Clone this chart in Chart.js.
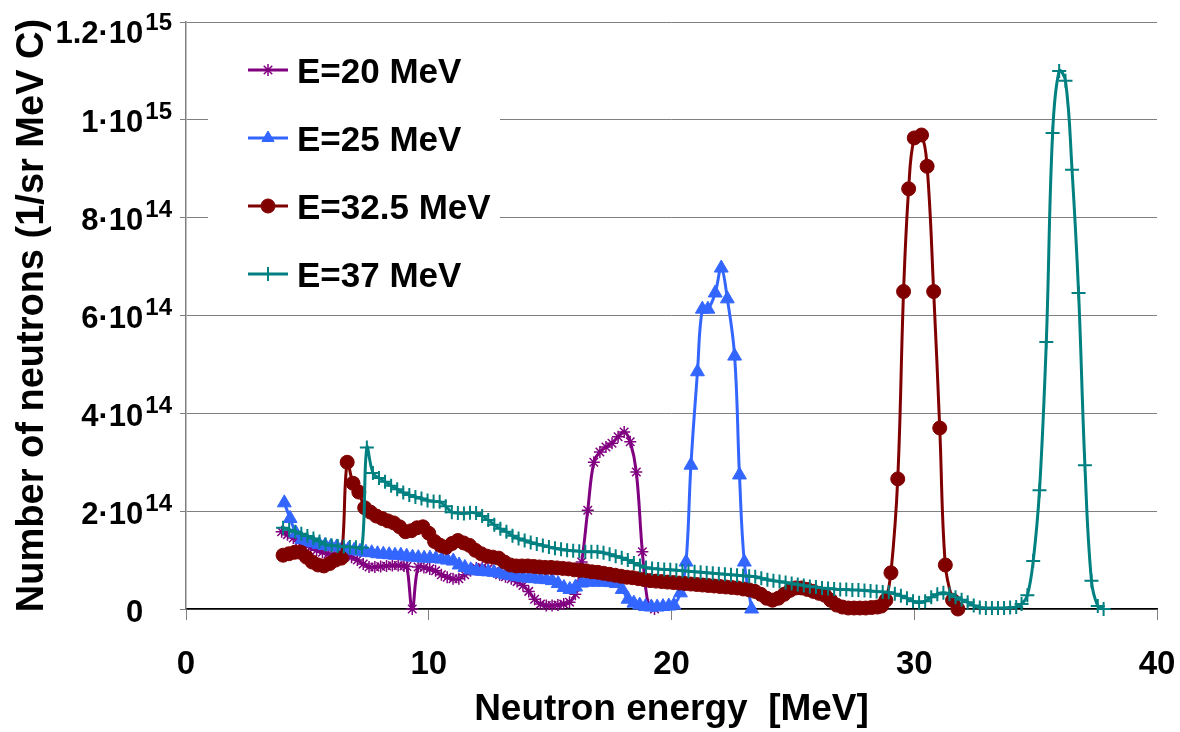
<!DOCTYPE html>
<html>
<head>
<meta charset="utf-8">
<script src="https://cdn.jsdelivr.net/npm/chart.js@4.4.1/dist/chart.umd.min.js"></script>
<style>
  body { margin: 0; background: #fff; }
  #wrap { width: 1180px; height: 732px; }
</style>
</head>
<body>
<div id="wrap"><canvas id="neutronChart" width="1180" height="732"></canvas></div>
<script>
// values in units of 1e14 neutrons / (sr MeV C)
const e20Energy = [3.94, 4.18, 4.42, 4.66, 4.9, 5.14, 5.38, 5.62, 5.86, 6.1, 6.34, 6.58, 6.82, 7.06, 7.3, 7.54, 7.78, 8.02, 8.26, 8.5, 8.74, 8.98, 9.1, 9.32, 9.56, 9.8, 10.04, 10.28, 10.52, 10.76, 11.0, 11.24, 11.48, 11.72, 11.96, 12.2, 12.44, 12.68, 12.92, 13.16, 13.4, 13.64, 13.88, 14.12, 14.36, 14.6, 14.84, 15.08, 15.32, 15.56, 15.8, 16.04, 16.3, 16.55, 16.8, 17.05, 17.3, 17.55, 17.8, 18.05, 18.3, 18.55, 18.8, 19.05, 19.3];
const e20Counts = [1.58, 1.52, 1.45, 1.38, 1.32, 1.26, 1.2, 1.16, 1.13, 1.12, 1.11, 1.1, 1.06, 1.0, 0.92, 0.86, 0.86, 0.87, 0.88, 0.89, 0.89, 0.88, 0.87, 0.0, 0.86, 0.85, 0.82, 0.78, 0.7, 0.65, 0.62, 0.62, 0.7, 0.78, 0.84, 0.85, 0.82, 0.76, 0.7, 0.66, 0.62, 0.56, 0.48, 0.36, 0.2, 0.1, 0.07, 0.07, 0.08, 0.1, 0.14, 0.3, 0.96, 2.02, 3.0, 3.21, 3.31, 3.39, 3.52, 3.62, 3.42, 2.8, 1.17, 0.08, 0.0];

const e25Energy = [4.05, 4.29, 4.53, 4.77, 5.01, 5.25, 5.49, 5.73, 5.97, 6.21, 6.45, 6.69, 6.93, 7.17, 7.41, 7.65, 7.89, 8.13, 8.37, 8.61, 8.85, 9.09, 9.33, 9.57, 9.81, 10.05, 10.29, 10.53, 10.77, 11.01, 11.25, 11.49, 11.73, 11.97, 12.21, 12.45, 12.69, 12.93, 13.17, 13.41, 13.65, 13.89, 14.13, 14.37, 14.61, 14.85, 15.09, 15.33, 15.57, 15.81, 16.05, 16.29, 16.53, 16.77, 17.01, 17.25, 17.49, 17.73, 17.97, 18.21, 18.45, 18.69, 18.93, 19.17, 19.41, 19.65, 19.89, 20.1, 20.37, 20.6, 20.8, 21.07, 21.27, 21.5, 21.8, 22.05, 22.3, 22.6, 22.8, 23.0, 23.3];
const e25Counts = [2.17, 1.85, 1.55, 1.42, 1.38, 1.35, 1.32, 1.3, 1.28, 1.27, 1.25, 1.22, 1.2, 1.18, 1.16, 1.15, 1.13, 1.12, 1.11, 1.1, 1.1, 1.08, 1.06, 1.05, 1.04, 1.04, 1.03, 1.02, 1.0, 0.98, 0.9, 0.85, 0.8, 0.78, 0.77, 0.76, 0.75, 0.73, 0.7, 0.68, 0.66, 0.64, 0.63, 0.62, 0.61, 0.6, 0.58, 0.52, 0.44, 0.4, 0.45, 0.53, 0.55, 0.55, 0.55, 0.55, 0.54, 0.52, 0.4, 0.2, 0.12, 0.08, 0.05, 0.04, 0.04, 0.05, 0.06, 0.08, 0.33, 0.96, 2.94, 4.85, 6.13, 6.13, 6.46, 6.97, 6.34, 5.17, 2.74, 0.96, 0.0];

const e325Energy = [4.0, 4.24, 4.48, 4.72, 4.96, 5.2, 5.44, 5.68, 5.92, 6.16, 6.4, 6.64, 6.88, 7.12, 7.36, 7.6, 7.84, 8.08, 8.32, 8.56, 8.8, 9.04, 9.28, 9.52, 9.76, 10.0, 10.24, 10.48, 10.72, 10.96, 11.2, 11.44, 11.68, 11.92, 12.16, 12.4, 12.64, 12.88, 13.12, 13.36, 13.6, 13.84, 14.08, 14.32, 14.56, 14.8, 15.04, 15.28, 15.52, 15.76, 16.0, 16.24, 16.48, 16.72, 16.96, 17.2, 17.44, 17.68, 17.92, 18.16, 18.4, 18.64, 18.88, 19.12, 19.36, 19.6, 19.84, 20.08, 20.32, 20.56, 20.8, 21.04, 21.28, 21.52, 21.76, 22.0, 22.24, 22.48, 22.72, 22.96, 23.2, 23.44, 23.68, 23.92, 24.16, 24.4, 24.64, 24.88, 25.12, 25.36, 25.6, 25.84, 26.08, 26.32, 26.56, 26.8, 27.04, 27.28, 27.52, 27.76, 28.0, 28.24, 28.48, 28.65, 28.83, 29.04, 29.32, 29.56, 29.77, 30.0, 30.3, 30.53, 30.8, 31.05, 31.28, 31.58, 31.8];
const e325Counts = [1.1, 1.13, 1.16, 1.16, 1.06, 0.96, 0.9, 0.88, 0.93, 1.0, 1.04, 3.0, 2.57, 2.39, 2.07, 1.98, 1.9, 1.85, 1.8, 1.76, 1.68, 1.58, 1.6, 1.66, 1.68, 1.55, 1.38, 1.3, 1.26, 1.34, 1.4, 1.35, 1.3, 1.2, 1.13, 1.08, 1.06, 1.04, 0.96, 0.9, 0.88, 0.88, 0.88, 0.87, 0.86, 0.85, 0.85, 0.84, 0.83, 0.82, 0.8, 0.79, 0.78, 0.76, 0.75, 0.73, 0.71, 0.69, 0.67, 0.65, 0.64, 0.62, 0.6, 0.58, 0.57, 0.56, 0.55, 0.54, 0.53, 0.52, 0.51, 0.5, 0.49, 0.48, 0.47, 0.46, 0.45, 0.44, 0.43, 0.41, 0.39, 0.36, 0.3, 0.22, 0.18, 0.22, 0.3, 0.38, 0.43, 0.43, 0.4, 0.36, 0.32, 0.28, 0.18, 0.08, 0.04, 0.02, 0.02, 0.02, 0.02, 0.03, 0.04, 0.06, 0.18, 0.74, 2.66, 6.49, 8.59, 9.63, 9.69, 9.05, 6.49, 3.7, 0.9, 0.18, 0.0];

const e37Energy = [4.0, 4.25, 4.5, 4.75, 5.0, 5.25, 5.5, 5.75, 6.0, 6.25, 6.5, 6.75, 7.0, 7.25, 7.45, 7.7, 7.95, 8.2, 8.45, 8.7, 8.95, 9.2, 9.45, 9.7, 9.95, 10.2, 10.45, 10.7, 10.95, 11.2, 11.45, 11.7, 11.95, 12.2, 12.45, 12.7, 12.95, 13.2, 13.45, 13.7, 13.95, 14.2, 14.45, 14.7, 14.95, 15.2, 15.45, 15.7, 15.95, 16.2, 16.45, 16.7, 16.95, 17.2, 17.45, 17.7, 17.95, 18.2, 18.45, 18.7, 18.95, 19.2, 19.45, 19.7, 19.95, 20.2, 20.45, 20.7, 20.95, 21.2, 21.45, 21.7, 21.95, 22.2, 22.45, 22.7, 22.95, 23.2, 23.45, 23.7, 23.95, 24.2, 24.45, 24.7, 24.95, 25.2, 25.45, 25.7, 25.95, 26.2, 26.45, 26.7, 26.95, 27.2, 27.45, 27.7, 27.95, 28.2, 28.45, 28.7, 28.95, 29.2, 29.45, 29.7, 29.95, 30.2, 30.45, 30.7, 30.95, 31.2, 31.45, 31.7, 31.95, 32.2, 32.45, 32.7, 32.95, 33.2, 33.45, 33.7, 33.95, 34.2, 34.42, 34.66, 34.9, 35.16, 35.44, 35.7, 35.97, 36.23, 36.5, 36.77, 37.03, 37.3, 37.56, 37.8];
const e37Counts = [1.66, 1.62, 1.58, 1.54, 1.49, 1.44, 1.38, 1.32, 1.3, 1.29, 1.28, 1.27, 1.26, 1.25, 3.3, 2.78, 2.68, 2.6, 2.52, 2.45, 2.38, 2.33, 2.29, 2.26, 2.22, 2.2, 2.19, 2.1, 1.98, 1.96, 1.95, 1.97, 1.96, 1.9, 1.82, 1.72, 1.64, 1.58, 1.5, 1.44, 1.4, 1.36, 1.33, 1.3, 1.27, 1.24, 1.22, 1.2, 1.19, 1.18, 1.17, 1.17, 1.17, 1.15, 1.12, 1.08, 1.05, 1.0, 0.94, 0.89, 0.85, 0.83, 0.82, 0.81, 0.8, 0.79, 0.78, 0.77, 0.76, 0.75, 0.74, 0.73, 0.72, 0.71, 0.7, 0.69, 0.68, 0.67, 0.66, 0.63, 0.6, 0.58, 0.56, 0.54, 0.52, 0.5, 0.48, 0.46, 0.45, 0.43, 0.42, 0.41, 0.4, 0.4, 0.39, 0.39, 0.38, 0.37, 0.36, 0.35, 0.34, 0.31, 0.27, 0.22, 0.16, 0.13, 0.16, 0.24, 0.3, 0.33, 0.3, 0.24, 0.19, 0.14, 0.07, 0.03, 0.02, 0.02, 0.02, 0.02, 0.03, 0.04, 0.1, 0.28, 0.98, 2.43, 5.46, 9.73, 11.0, 10.8, 8.98, 6.46, 2.94, 0.58, 0.06, 0.0];

const seriesNames = ['E=20 MeV', 'E=25 MeV', 'E=32.5 MeV', 'E=37 MeV'];
const seriesColors = ['#800080', '#3366FF', '#800000', '#008080'];
const xTickValues = [0, 10, 20, 30, 40];
const yTickValues = [0, 2, 4, 6, 8, 10, 12];
const yTickBases = ['0', '2\u00b710', '4\u00b710', '6\u00b710', '8\u00b710', '1\u00b710', '1.2\u00b710'];
const yTickExps = ['', '14', '14', '14', '14', '15', '15'];

const FONT = '"Liberation Sans", Arial, sans-serif';

const toPoints = (xs, ys) => xs.map((x, i) => ({ x: x, y: ys[i] }));

const pointStyles = ['star', 'triangle', 'circle', 'cross'];
const pointSizes = [6, 8, 7, 7];
const pointBorders = [1.5, 1, 1, 2];

const datasets = [
  toPoints(e20Energy, e20Counts),
  toPoints(e25Energy, e25Counts),
  toPoints(e325Energy, e325Counts),
  toPoints(e37Energy, e37Counts)
].map((pts, i) => ({
  label: seriesNames[i],
  data: pts,
  borderColor: seriesColors[i],
  backgroundColor: seriesColors[i],
  borderWidth: 3,
  tension: 0.4,
  pointStyle: pointStyles[i],
  pointRadius: pointSizes[i],
  pointBorderWidth: pointBorders[i],
  pointBackgroundColor: seriesColors[i],
  pointBorderColor: seriesColors[i],
  clip: false,
  order: 4 - i
}));

// y tick labels with superscript exponents
const yLabelPlugin = {
  id: 'yLabels',
  afterDraw(chart) {
    const { ctx } = chart;
    const y = chart.scales.y;
    ctx.save();
    ctx.fillStyle = '#000';
    ctx.textAlign = 'right';
    ctx.textBaseline = 'alphabetic';
    yTickValues.forEach((v, i) => {
      // label centre, kept inside the canvas at the top
      const cy = Math.max(y.getPixelForValue(v) + 2, 32.5);
      let right = 172;
      ctx.font = 'bold 24px ' + FONT;
      const expW = ctx.measureText('15').width;
      if (yTickExps[i]) {
        ctx.fillText(yTickExps[i], right, cy - 2.5);
      }
      right -= expW + 2;
      ctx.font = 'bold 31px ' + FONT;
      ctx.fillText(yTickBases[i], right, cy + 10.5);
    });
    ctx.restore();
  }
};

// legend box in the upper left of the plot
const legendPlugin = {
  id: 'boxLegend',
  afterDraw(chart) {
    const { ctx } = chart;
    ctx.save();
    ctx.fillStyle = '#fff';
    ctx.fillRect(208, 34, 292, 266);
    chart.data.datasets.forEach((ds, i) => {
      const yy = 70 + i * 68;
      ctx.strokeStyle = ds.borderColor;
      ctx.lineWidth = 3;
      ctx.beginPath();
      ctx.moveTo(248, yy);
      ctx.lineTo(288, yy);
      ctx.stroke();
      ctx.fillStyle = ds.borderColor;
      ctx.lineWidth = ds.pointBorderWidth;
      Chart.helpers.drawPoint(ctx, {
        pointStyle: ds.pointStyle,
        radius: Math.min(ds.pointRadius, 7),
        rotation: 0,
        borderWidth: ds.pointBorderWidth
      }, 268, yy);
      ctx.fillStyle = '#000';
      ctx.font = 'bold 35px ' + FONT;
      ctx.textAlign = 'left';
      ctx.textBaseline = 'alphabetic';
      ctx.fillText(ds.label, 297, yy + 13);
    });
    ctx.restore();
  }
};

const ctx = document.getElementById('neutronChart').getContext('2d');
new Chart(ctx, {
  type: 'line',
  data: { datasets: datasets },
  options: {
    responsive: false,
    animation: false,
    devicePixelRatio: 1,
    layout: { padding: { left: 0, right: 23, top: 22, bottom: 0 } },
    plugins: {
      legend: { display: false },
      tooltip: { enabled: false }
    },
    scales: {
      x: {
        type: 'linear',
        min: 0,
        max: 40,
        afterBuildTicks: (s) => { s.ticks = xTickValues.map(v => ({ value: v })); },
        afterFit: (s) => {
          s.height = 123;
          s.paddingLeft = 0;
          s.paddingRight = 0;
        },
        ticks: {
          color: '#000',
          font: { family: FONT, size: 33, weight: 'bold' },
          padding: 25,
          maxRotation: 0
        },
        grid: { drawOnChartArea: false, tickLength: 11, color: '#808080' },
        border: { color: '#000', width: 1.5 },
        title: {
          display: true,
          text: 'Neutron energy  [MeV]',
          color: '#000',
          font: { family: FONT, size: 37, weight: 'bold' },
          padding: { top: 0, bottom: 0 }
        }
      },
      y: {
        type: 'linear',
        min: 0,
        max: 12,
        afterBuildTicks: (s) => { s.ticks = yTickValues.map(v => ({ value: v })); },
        afterFit: (s) => { s.width = 186; },
        ticks: { display: false },
        grid: { color: '#808080', lineWidth: 1, drawTicks: true, tickLength: 6 },
        border: { color: '#808080', width: 1.5 },
        title: {
          display: true,
          text: 'Number of neutrons (1/sr MeV C)',
          color: '#000',
          font: { family: FONT, size: 38, weight: 'bold' },
          padding: { top: 10, bottom: 0 }
        }
      }
    }
  },
  plugins: [yLabelPlugin, legendPlugin]
});
</script>
</body>
</html>
